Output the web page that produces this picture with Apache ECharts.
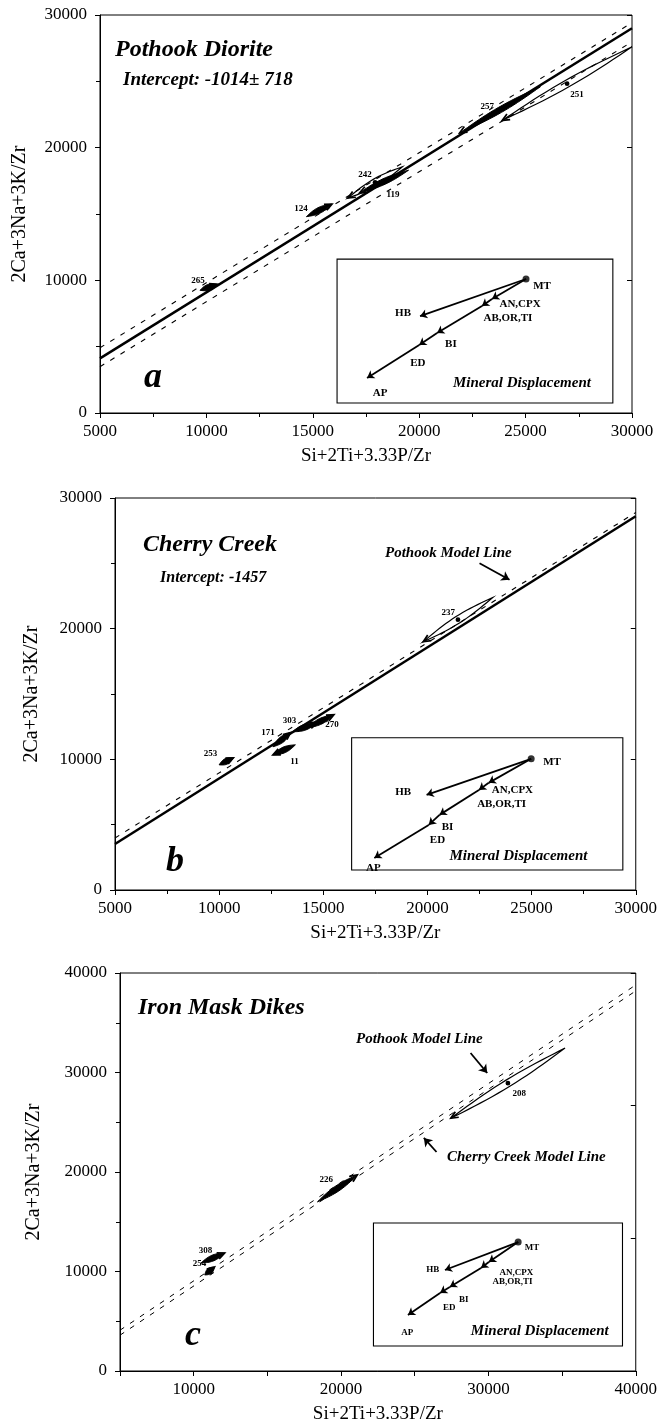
<!DOCTYPE html>
<html>
<head>
<meta charset="utf-8">
<script src="https://cdn.jsdelivr.net/npm/echarts@6/dist/echarts.min.js"></script>
<style>
html,body{margin:0;padding:0;background:#fff;}
#chart{width:660px;height:1426px;}
</style>
</head>
<body>
<div id="chart"></div>
<script>
// ---------- Panel a : Pothook Diorite ----------
const fitA = [[5000, 4120], [30000, 29000]];
const bandUpperA = [[5000, 4920], [30000, 29420]];
const bandLowerA = [[5000, 3490], [30000, 27980]];
const samplesA = ['265', '124', '242', '119', '257', '251'];
const vecA = [[9700, 9250, 10500, 9700], [14700, 14800, 15900, 15750], [19200, 18550, 16650, 16200],
              [19500, 18300, 17200, 16600], [25700, 24600, 21900, 21100], [30000, 27600, 23900, 22050]];
const labelPosA = [[9600, 10000], [14450, 15400], [17450, 17950], [18770, 16450], [23200, 23100], [27420, 24000]];
const hollowA = ['242', '251'];

// ---------- Panel b : Cherry Creek ----------
const modelB = [[5000, 3980], [30000, 28890]];
const fitB = [[5000, 3520], [30000, 28600]];
const samplesB = ['253', '171', '303', '270', '11', '237'];
const vecB = [[10000, 9580, 10680, 10110], [12580, 10960, 13430, 12050], [13520, 12110, 14700, 12800],
              [14230, 12410, 15510, 13410], [13660, 11110, 12580, 10340], [23130, 22380, 19800, 19000]];
const labelPosB = [[9590, 10450], [12340, 12030], [13380, 12950], [15420, 12640], [13620, 9810], [21000, 21250]];
const hollowB = ['237'];
const pointerB = [[[22500, 25000], [23940, 23750]]];

// ---------- Panel c : Iron Mask Dikes ----------
const pothookC = [[5000, 4100], [40000, 38800]];
const cherryC = [[5000, 3600], [40000, 38200]];
const samplesC = ['308', '254', '226', '208'];
const vecC = [[10500, 10850, 12100, 11860], [10750, 9650, 11410, 10450], [18400, 17000, 21100, 19700],
              [35200, 32450, 27450, 25400]];
const labelPosC = [[10800, 12050], [10400, 10750], [19000, 19200], [32100, 27900]];
const hollowC = ['208'];
const pointerC = [[[28790, 31960], [29920, 29950]], [[26480, 22010], [25620, 23420]]];

// ---------- Mineral displacement insets ----------
const insetNames = ['MT', 'HB', 'AN,CPX', 'AB,OR,TI', 'BI', 'ED', 'AP'];
const insetEdges = [[0, 1], [0, 2], [2, 3], [3, 4], [4, 5], [5, 6]];
const insetA = [[25020, 10100], [20040, 7300], [23420, 8600], [22950, 8060], [20840, 6030], [20000, 5120], [17550, 2640]];
const insetLabelA = [[25770, 9570], [19240, 7540], [24740, 8210], [24170, 7160], [21490, 5200], [19940, 3770], [18160, 1510]];
const insetBoxA = [16140, 750, 29100, 11600];
const mineralPosA = [24830, 2260];

const insetB = [[24980, 10040], [19960, 7280], [22940, 8200], [22470, 7660], [20580, 5750], [20060, 4980], [17450, 2450]];
const insetLabelB = [[25980, 9810], [18830, 7510], [24080, 7660], [23560, 6590], [20960, 4830], [20480, 3830], [17400, 1690]];
const insetBoxB = [16360, 1530, 29380, 11650];
const mineralPosB = [24370, 2610];

const insetC = [[32020, 12960], [27050, 10150], [30030, 10950], [29500, 10350], [27380, 8440], [26720, 7840], [24540, 5630]];
const insetLabelC = [[32960, 12360], [26220, 10150], [31900, 9850], [31640, 8940], [28330, 7140], [27340, 6330], [24500, 3820]];
const insetBoxC = [22200, 2510, 39100, 14870];
const mineralPosC = [33490, 4020];

// ---------- helpers ----------
const FONT = '"Liberation Serif", "DejaVu Serif", serif';
const BLACK = '#000';

function vecRender(hollowList, names) {
  return function (params, api) {
    const a = api.coord([api.value(0), api.value(1)]);
    const b = api.coord([api.value(2), api.value(3)]);
    const hollow = hollowList.indexOf(names[params.dataIndex]) >= 0;
    const dx = b[0] - a[0], dy = b[1] - a[1];
    const L = Math.hypot(dx, dy) || 1;
    const ux = dx / L, uy = dy / L, nx = -uy, ny = ux;
    const w = hollow ? 3.6 : 2.9;
    const N = 20, s1 = [], s2 = [];
    for (let i = 0; i <= N; i++) {
      const t = i / N, s = w * Math.sin(Math.PI * t);
      const px = a[0] + dx * t, py = a[1] + dy * t;
      s1.push([px + nx * s, py + ny * s]);
      s2.push([px - nx * s, py - ny * s]);
    }
    const pts = s1.concat(s2.reverse());
    const head = 8, c = Math.cos(0.42), sn = Math.sin(0.42);
    const h1 = [b[0] - head * (ux * c - uy * sn), b[1] - head * (ux * sn + uy * c)];
    const h2 = [b[0] - head * (ux * c + uy * sn), b[1] - head * (-ux * sn + uy * c)];
    const m = [(a[0] + b[0]) / 2, (a[1] + b[1]) / 2];
    return {
      type: 'group',
      children: [
        { type: 'polygon', shape: { points: pts },
          style: hollow ? { fill: 'none', stroke: BLACK, lineWidth: 1.2 } : { fill: BLACK, stroke: BLACK, lineWidth: 1 } },
        { type: 'polyline', shape: { points: [h1, b, h2] }, style: { fill: 'none', stroke: BLACK, lineWidth: 1.7 } },
        { type: 'circle', shape: { cx: m[0], cy: m[1], r: 2.4 }, style: { fill: BLACK } }
      ]
    };
  };
}

function textRender(texts, font) {
  return function (params, api) {
    const p = api.coord([api.value(0), api.value(1)]);
    return { type: 'text', x: p[0], y: p[1],
      style: { text: texts[params.dataIndex], font: font, fill: BLACK, align: 'center', verticalAlign: 'middle' } };
  };
}

function boxRender(params, api) {
  const p1 = api.coord([api.value(0), api.value(1)]);
  const p2 = api.coord([api.value(2), api.value(3)]);
  return { type: 'rect',
    shape: { x: Math.min(p1[0], p2[0]), y: Math.min(p1[1], p2[1]), width: Math.abs(p2[0] - p1[0]), height: Math.abs(p2[1] - p1[1]) },
    style: { fill: '#fff', stroke: BLACK, lineWidth: 1.1 } };
}

const seriesList = [];
function lineSeries(gi, data, dashed, width) {
  seriesList.push({ type: 'line', xAxisIndex: gi * 2, yAxisIndex: gi * 2, data: data, showSymbol: false, silent: true,
    lineStyle: { color: BLACK, width: width, type: dashed ? [5, 7] : 'solid' }, z: 3 });
}
function vectors(gi, vec, names, hollow, labelPos) {
  seriesList.push({ type: 'custom', xAxisIndex: gi * 2, yAxisIndex: gi * 2, data: vec, renderItem: vecRender(hollow, names),
    encode: { x: [0, 2], y: [1, 3] }, silent: true, z: 4 });
  seriesList.push({ type: 'custom', xAxisIndex: gi * 2, yAxisIndex: gi * 2, data: labelPos,
    renderItem: textRender(names, 'bold 9px ' + FONT), encode: { x: 0, y: 1 }, silent: true, z: 5 });
}
function inset(gi, pts, labelPos, box, mineralPos, labelFont, mineralFont) {
  seriesList.push({ type: 'custom', xAxisIndex: gi * 2, yAxisIndex: gi * 2, data: [box], renderItem: boxRender,
    encode: { x: [0, 2], y: [1, 3] }, silent: true, z: 2 });
  seriesList.push({ type: 'lines', coordinateSystem: 'cartesian2d', xAxisIndex: gi * 2, yAxisIndex: gi * 2, silent: true,
    symbol: ['none', 'arrow'], symbolSize: 7, lineStyle: { color: BLACK, width: 1.8, opacity: 1 }, z: 6,
    data: insetEdges.map(e => ({ coords: [pts[e[0]], pts[e[1]]] })) });
  seriesList.push({ type: 'scatter', xAxisIndex: gi * 2, yAxisIndex: gi * 2, data: [pts[0]], symbolSize: 7,
    itemStyle: { color: BLACK }, silent: true, z: 7 });
  seriesList.push({ type: 'custom', xAxisIndex: gi * 2, yAxisIndex: gi * 2, data: labelPos,
    renderItem: textRender(insetNames, labelFont), encode: { x: 0, y: 1 }, silent: true, z: 7 });
  seriesList.push({ type: 'custom', xAxisIndex: gi * 2, yAxisIndex: gi * 2, data: [mineralPos],
    renderItem: textRender(['Mineral Displacement'], mineralFont), encode: { x: 0, y: 1 }, silent: true, z: 7 });
}
function pointers(gi, segs) {
  seriesList.push({ type: 'lines', coordinateSystem: 'cartesian2d', xAxisIndex: gi * 2, yAxisIndex: gi * 2, silent: true,
    symbol: ['none', 'arrow'], symbolSize: 8, lineStyle: { color: BLACK, width: 1.8, opacity: 1 }, z: 6,
    data: segs.map(s => ({ coords: s })) });
}

// Panel a
lineSeries(0, bandUpperA, true, 1.1);
lineSeries(0, bandLowerA, true, 1.1);
lineSeries(0, fitA, false, 2.5);
vectors(0, vecA, samplesA, hollowA, labelPosA);
inset(0, insetA, insetLabelA, insetBoxA, mineralPosA, 'bold 11px ' + FONT, 'italic bold 15px ' + FONT);
// Panel b
lineSeries(1, modelB, true, 1.1);
lineSeries(1, fitB, false, 2.5);
vectors(1, vecB, samplesB, hollowB, labelPosB);
inset(1, insetB, insetLabelB, insetBoxB, mineralPosB, 'bold 11px ' + FONT, 'italic bold 15px ' + FONT);
pointers(1, pointerB);
// Panel c
lineSeries(2, pothookC, true, 1.0);
lineSeries(2, cherryC, true, 1.0);
vectors(2, vecC, samplesC, hollowC, labelPosC);
inset(2, insetC, insetLabelC, insetBoxC, mineralPosC, 'bold 9px ' + FONT, 'italic bold 15px ' + FONT);
pointers(2, pointerC);

// ---------- axes ----------
const grids = [
  { left: 100, top: 15, width: 532, height: 398 },
  { left: 115, top: 498, width: 528, height: 392 },
  { left: 120, top: 973, width: 530, height: 398 }
];
const xCfg = [
  { min: 5000, max: 30000, interval: 5000, minor: true, top: 5000, fmt: v => String(v) },
  { min: 5000, max: 30000, interval: 5000, minor: true, top: 5000, fmt: v => String(v) },
  { min: 5000, max: 40000, interval: 5000, minor: false, top: 10000, fmt: v => (v % 10000 === 0 ? String(v) : '') }
];
const yCfg = [
  { min: 0, max: 30000, interval: 10000, right: 10000, gap: 70 },
  { min: 0, max: 30000, interval: 10000, right: 10000, gap: 73 },
  { min: 0, max: 40000, interval: 10000, right: 40000 / 3, gap: 76 }
];
const xAxis = [], yAxis = [];
grids.forEach((g, i) => {
  const xc = xCfg[i], yc = yCfg[i];
  xAxis.push({ gridIndex: i, type: 'value', position: 'bottom', min: xc.min, max: xc.max, interval: xc.interval,
    name: 'Si+2Ti+3.33P/Zr', nameLocation: 'middle', nameGap: 34,
    nameTextStyle: { fontFamily: FONT, fontSize: 19, color: BLACK },
    axisLine: { show: true, onZero: false, lineStyle: { color: BLACK, width: 1 } },
    axisTick: { show: true, length: 5, lineStyle: { color: BLACK } },
    minorTick: { show: xc.minor, splitNumber: 2, length: 4, lineStyle: { color: BLACK } },
    splitLine: { show: false }, minorSplitLine: { show: false },
    axisLabel: { fontFamily: FONT, fontSize: 17, color: BLACK, margin: 10, formatter: xc.fmt } });
  xAxis.push({ gridIndex: i, type: 'value', position: 'top', min: xc.min, max: xc.max, interval: xc.top,
    axisLine: { show: false }, axisTick: { show: true, inside: true, length: 5, lineStyle: { color: BLACK } },
    axisLabel: { show: false }, splitLine: { show: false } });
  yAxis.push({ gridIndex: i, type: 'value', position: 'left', min: yc.min, max: yc.max, interval: yc.interval,
    name: '2Ca+3Na+3K/Zr', nameLocation: 'middle', nameGap: yc.gap,
    nameTextStyle: { fontFamily: FONT, fontSize: 20, color: BLACK },
    axisLine: { show: true, onZero: false, lineStyle: { color: BLACK, width: 1 } },
    axisTick: { show: true, length: 5, lineStyle: { color: BLACK } },
    minorTick: { show: true, splitNumber: 2, length: 4, lineStyle: { color: BLACK } },
    splitLine: { show: false }, minorSplitLine: { show: false },
    axisLabel: { fontFamily: FONT, fontSize: 17, color: BLACK, margin: 13, formatter: v => String(v) } });
  yAxis.push({ gridIndex: i, type: 'value', position: 'right', min: yc.min, max: yc.max, interval: yc.right,
    axisLine: { show: false }, axisTick: { show: true, inside: true, length: 5, lineStyle: { color: BLACK } },
    axisLabel: { show: false }, splitLine: { show: false } });
});

function txt(x, y, text, font, align) {
  return { type: 'text', x: x, y: y, z: 10, silent: true,
    style: { text: text, font: font, fill: BLACK, align: align || 'left', verticalAlign: 'middle' } };
}
const TITLE = 'italic bold 24px ' + FONT;
const NOTE = 'italic bold 15px ' + FONT;
const graphic = [
  txt(115, 50, 'Pothook Diorite', TITLE),
  txt(123, 80, 'Intercept: -1014\u00b1 718', 'italic bold 19px ' + FONT),
  txt(153, 378, 'a', 'italic bold 36px ' + FONT, 'center'),
  txt(143, 545, 'Cherry Creek', TITLE),
  txt(160, 578, 'Intercept: -1457', 'italic bold 16px ' + FONT),
  txt(385, 553, 'Pothook Model Line', NOTE),
  txt(175, 862, 'b', 'italic bold 36px ' + FONT, 'center'),
  txt(138, 1008, 'Iron Mask Dikes', TITLE),
  txt(356, 1039, 'Pothook Model Line', NOTE),
  txt(447, 1157, 'Cherry Creek Model Line', NOTE),
  txt(193, 1336, 'c', 'italic bold 36px ' + FONT, 'center')
];

const chart = echarts.init(document.getElementById('chart'), null, { renderer: 'canvas' });
chart.setOption({
  backgroundColor: '#fff',
  animation: false,
  grid: grids.map(g => Object.assign({ show: true, borderColor: BLACK, borderWidth: 1, backgroundColor: 'transparent' }, g)),
  xAxis: xAxis,
  yAxis: yAxis,
  series: seriesList,
  graphic: graphic
});
</script>
</body>
</html>
